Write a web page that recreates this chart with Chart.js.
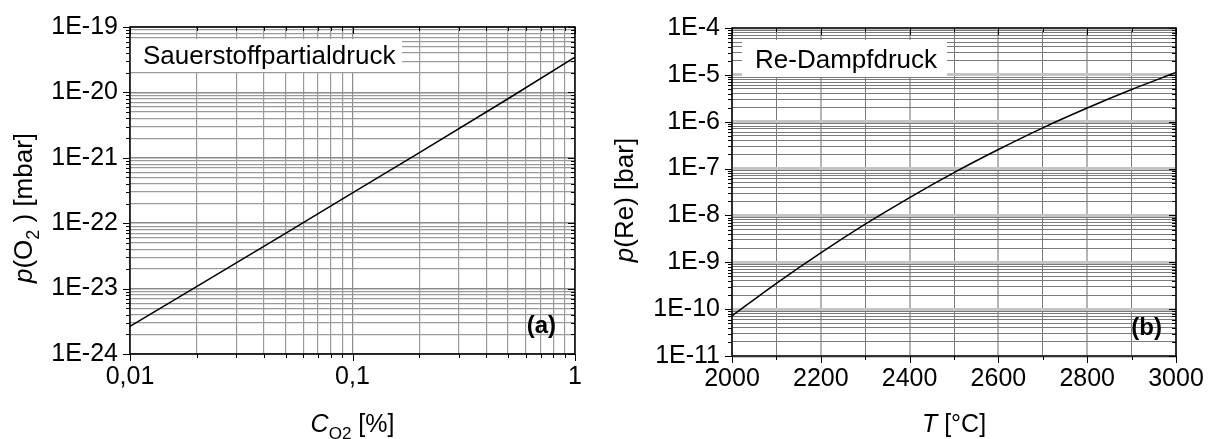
<!DOCTYPE html>
<html>
<head>
<meta charset="utf-8">
<script src="https://cdn.jsdelivr.net/npm/chart.js@4.4.0/dist/chart.umd.min.js"></script>
<style>
    html, body { margin: 0; padding: 0; background: #fff; }
    #wrap { position: relative; width: 1213px; height: 439px; }
    #wrap canvas { position: absolute; top: 0; }
    #chartA { left: 0; width: 606px; height: 439px; }
    #chartB { left: 606px; width: 607px; height: 439px; }
</style>
</head>
<body>
<div id="wrap">
    <canvas id="chartA" width="606" height="439"></canvas>
    <canvas id="chartB" width="607" height="439"></canvas>
</div>
<script>
// (a) Sauerstoffpartialdruck
const concO2 = [0.01, 0.02, 0.05, 0.1, 0.2, 0.5, 1];
const pressureO2 = [2.64e-24, 1.08e-23, 7.0e-23, 2.9e-22, 1.2e-21, 8.0e-21, 3.45e-20];

// (b) Re-Dampfdruck
const tempRe = [2000, 2100, 2200, 2300, 2400, 2500, 2600, 2700, 2800, 2900, 3000];
const pressureRe = [7.2e-11, 3.56e-10, 1.59e-9, 6.5e-9, 2.41e-8, 8.2e-8, 2.55e-7, 7.4e-7, 1.96e-6, 4.86e-6, 1.12e-5];

// ticks
const concMajor = [0.01, 0.1, 1];
const concTickLabels = ["0,01", "0,1", "1"];
const o2Decades = [-24, -23, -22, -21, -20, -19];
const reDecades = [-11, -10, -9, -8, -7, -6, -5, -4];
const tempTicks = [2000, 2100, 2200, 2300, 2400, 2500, 2600, 2700, 2800, 2900, 3000];
const tempLabels = [2000, 2200, 2400, 2600, 2800, 3000];

const FONT = "'Liberation Sans', Arial, sans-serif";
const tickFont = { family: FONT, size: 25 };

function isDecade(v) {
    const l = Math.log10(v);
    return Math.abs(l - Math.round(l)) < 1e-6;
}

function decadeTicks(decades) {
    const ticks = [];
    decades.forEach((exp, i) => {
        const base = Math.pow(10, exp);
        ticks.push({ value: base, major: true });
        if (i < decades.length - 1) {
            for (let k = 2; k <= 9; k++) {
                ticks.push({ value: Number((k * base).toPrecision(3)), major: false });
            }
        }
    });
    return ticks;
}

function concTicks() {
    const ticks = [];
    concMajor.forEach((m, i) => {
        ticks.push({ value: m, major: true });
        if (i < concMajor.length - 1) {
            for (let k = 2; k <= 9; k++) {
                ticks.push({ value: Number((k * m).toPrecision(3)), major: false });
            }
        }
    });
    return ticks;
}

function gridStyle(majorColor, minorColor, majorWidth, minorWidth) {
    return {
        drawTicks: false,
        color: c => (c.tick && c.tick.major) ? majorColor : minorColor,
        lineWidth: c => (c.tick && c.tick.major) ? majorWidth : minorWidth
    };
}

function drawRich(ctx, parts, x, y, size) {
    const subSize = Math.round(size * 0.68);
    const fontFor = p => `${p.italic ? "italic " : ""}${p.sub ? subSize : size}px ${FONT}`;
    let total = 0;
    parts.forEach(p => {
        ctx.font = fontFor(p);
        total += ctx.measureText(p.text).width;
    });
    let cx = x - total / 2;
    parts.forEach(p => {
        ctx.font = fontFor(p);
        ctx.fillText(p.text, cx, p.sub ? y + size * 0.26 : y);
        cx += ctx.measureText(p.text).width;
    });
}

// frame + tick marks on all four sides
const frameTicks = {
    id: "frameTicks",
    afterDatasetsDraw(chart) {
        const { ctx, chartArea: a, scales } = chart;
        ctx.save();
        ctx.strokeStyle = "#000";
        ctx.lineWidth = 1;
        const seg = (x1, y1, x2, y2) => {
            ctx.beginPath();
            ctx.moveTo(x1, y1);
            ctx.lineTo(x2, y2);
            ctx.stroke();
        };
        scales.x.ticks.forEach(t => {
            const px = Math.round(scales.x.getPixelForValue(t.value)) + 0.5;
            const len = t.major ? 7 : 4;
            seg(px, a.bottom, px, a.bottom + len);
            seg(px, a.top, px, a.top + len);
        });
        scales.y.ticks.forEach(t => {
            const py = Math.round(scales.y.getPixelForValue(t.value)) + 0.5;
            const len = t.major ? 7 : 4;
            seg(a.left - len, py, a.left, py);
            seg(a.right - len, py, a.right, py);
        });
        ctx.lineWidth = 1.5;
        ctx.strokeRect(a.left, a.top, a.right - a.left, a.bottom - a.top);
        ctx.restore();
    }
};

// name box, panel letter and axis titles
const annotations = {
    id: "annotations",
    beforeDatasetsDraw(chart, args, opts) {
        const { ctx, chartArea: a } = chart;
        ctx.save();
        ctx.fillStyle = "#fff";
        ctx.fillRect(a.left + opts.box.x, a.top + opts.box.y, opts.box.w, opts.box.h);
        ctx.fillStyle = "#000";
        ctx.textAlign = "left";
        ctx.textBaseline = "alphabetic";
        ctx.font = `26px ${FONT}`;
        ctx.fillText(opts.name, a.left + opts.box.tx, a.top + opts.box.ty);
        ctx.restore();
    },
    afterDraw(chart, args, opts) {
        const { ctx, chartArea: a } = chart;
        ctx.save();
        ctx.fillStyle = "#000";
        ctx.textBaseline = "alphabetic";
        ctx.textAlign = "right";
        ctx.font = `bold 24px ${FONT}`;
        ctx.fillText(opts.panel, a.right - opts.panelDx, a.bottom - 21);
        ctx.textAlign = "left";
        drawRich(ctx, opts.xTitle, (a.left + a.right) / 2, 432, 25);
        ctx.translate(opts.yTitleX, opts.yTitleY);
        ctx.rotate(-Math.PI / 2);
        drawRich(ctx, opts.yTitle, 0, 0, 26);
        ctx.restore();
    }
};

const lineStyle = {
    borderColor: "#000",
    borderWidth: 1.5,
    pointRadius: 0,
    fill: false
};

new Chart(document.getElementById("chartA"), {
    type: "line",
    data: {
        datasets: [{
            ...lineStyle,
            data: concO2.map((c, i) => ({ x: c, y: pressureO2[i] }))
        }]
    },
    options: {
        responsive: false,
        animation: false,
        layout: { padding: { left: 0, top: 25, right: 31, bottom: 0 } },
        plugins: {
            legend: { display: false },
            tooltip: { enabled: false },
            annotations: {
                name: "Sauerstoffpartialdruck",
                box: { x: 0, y: 12, w: 272, h: 33, tx: 13, ty: 37 },
                panel: "(a)",
                panelDx: 19,
                xTitle: [{ text: "C", italic: true }, { text: "O2", sub: true }, { text: " [%]" }],
                yTitle: [{ text: "p", italic: true }, { text: "(O" }, { text: "2", sub: true }, { text: " ) [mbar]" }],
                yTitleX: 32,
                yTitleY: 208
            }
        },
        scales: {
            x: {
                type: "logarithmic",
                min: 0.01,
                max: 1,
                afterBuildTicks: s => { s.ticks = concTicks(); },
                afterFit: s => { s.height = 85; },
                ticks: {
                    autoSkip: false,
                    maxRotation: 0,
                    padding: 8,
                    color: "#000",
                    font: tickFont,
                    callback: v => {
                        const i = concMajor.findIndex(m => Math.abs(m - v) < 1e-9);
                        return i >= 0 ? concTickLabels[i] : "";
                    }
                },
                grid: gridStyle("#8a8a8a", "#9a9a9a", 1.2, 1.2),
                border: { display: false }
            },
            y: {
                type: "logarithmic",
                min: 1e-24,
                max: 1e-19,
                afterBuildTicks: s => { s.ticks = decadeTicks(o2Decades); },
                afterFit: s => { s.width = 130; },
                ticks: {
                    autoSkip: false,
                    padding: 12,
                    color: "#000",
                    font: tickFont,
                    callback: v => isDecade(v) ? "1E" + Math.round(Math.log10(v)) : ""
                },
                grid: gridStyle("#8a8a8a", "#9a9a9a", 1.5, 1.2),
                border: { display: false }
            }
        }
    },
    plugins: [annotations, frameTicks]
});

new Chart(document.getElementById("chartB"), {
    type: "line",
    data: {
        datasets: [{
            ...lineStyle,
            cubicInterpolationMode: "monotone",
            data: tempRe.map((t, i) => ({ x: t, y: pressureRe[i] }))
        }]
    },
    options: {
        responsive: false,
        animation: false,
        layout: { padding: { left: 0, top: 28, right: 37, bottom: 0 } },
        plugins: {
            legend: { display: false },
            tooltip: { enabled: false },
            annotations: {
                name: "Re-Dampfdruck",
                box: { x: 10, y: 12, w: 205, h: 37, tx: 23, ty: 40 },
                panel: "(b)",
                panelDx: 14,
                xTitle: [{ text: "T", italic: true }, { text: " [°C]" }],
                yTitle: [{ text: "p", italic: true }, { text: "(Re) [bar]" }],
                yTitleX: 27,
                yTitleY: 200
            }
        },
        scales: {
            x: {
                type: "linear",
                min: 2000,
                max: 3000,
                afterBuildTicks: s => {
                    s.ticks = tempTicks.map(t => ({ value: t, major: tempLabels.includes(t) }));
                },
                afterFit: s => { s.height = 83; },
                ticks: {
                    autoSkip: false,
                    maxRotation: 0,
                    padding: 8,
                    color: "#000",
                    font: tickFont,
                    callback: v => tempLabels.includes(v) ? String(v) : ""
                },
                grid: gridStyle("#b4b4b4", "#7a7a7a", 2, 1),
                border: { display: false }
            },
            y: {
                type: "logarithmic",
                min: 1e-11,
                max: 1e-4,
                afterBuildTicks: s => { s.ticks = decadeTicks(reDecades); },
                afterFit: s => { s.width = 126; },
                ticks: {
                    autoSkip: false,
                    padding: 12,
                    color: "#000",
                    font: tickFont,
                    callback: v => isDecade(v) ? "1E" + Math.round(Math.log10(v)) : ""
                },
                grid: gridStyle("#c4c4c4", "#7a7a7a", 3, 1),
                border: { display: false }
            }
        }
    },
    plugins: [annotations, frameTicks]
});
</script>
</body>
</html>
